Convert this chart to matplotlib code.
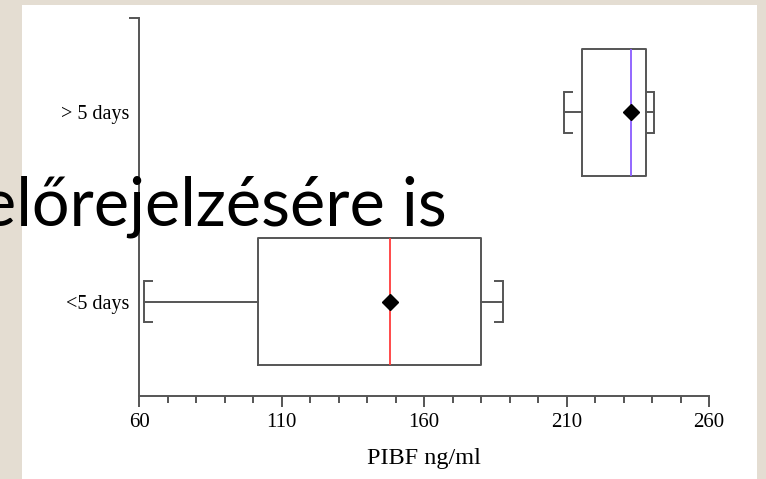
import matplotlib
matplotlib.use("Agg")
import matplotlib.pyplot as plt
from matplotlib.patches import Rectangle
from matplotlib.ticker import MultipleLocator


# ---------------------------------
# Data (PIBF ng/ml)
# ---------------------------------

labels = ["<5 days", "> 5 days"]
whislo = [61.9, 209.2]
q1 = [101.8, 215.3]
med = [147.9, 232.6]
q3 = [180.0, 237.8]
whishi = [187.6, 240.8]
means = [147.9, 232.6]
median_colors = ["#ff3b3b", "#8a5cff"]

x_ticks = [60, 110, 160, 210, 260]

overlay_text = "előrejelzésére is"

# ---------------------------------
# Figure
# ---------------------------------

fig = plt.figure(figsize=(7.66, 4.79), dpi=100)
fig.patch.set_facecolor("#e4ddd2")

# white slide panel
fig.patches.append(
    Rectangle((22 / 766, 0), (757 - 22) / 766, (479 - 5) / 479,
              transform=fig.transFigure, facecolor="white",
              edgecolor="none", zorder=-5)
)

ax = fig.add_axes([139 / 766, 83 / 479, 570 / 766, 378 / 479])
ax.set_facecolor("none")
ax.set_zorder(1)

stats = []
for i in range(len(labels)):
    stats.append({
        "label": labels[i],
        "whislo": whislo[i],
        "q1": q1[i],
        "med": med[i],
        "q3": q3[i],
        "whishi": whishi[i],
        "mean": means[i],
    })

gray = "#555555"
lw = 1.4

bp = ax.bxp(
    stats,
    positions=[1, 2],
    orientation="horizontal",
    widths=0.667,
    showmeans=True,
    showfliers=False,
    boxprops=dict(color=gray, linewidth=lw),
    whiskerprops=dict(color=gray, linewidth=lw),
    capprops=dict(color=gray, linewidth=lw),
    capwidths=0.22,
    meanprops=dict(marker="D", markerfacecolor="black",
                   markeredgecolor="black", markersize=8.5),
)

for line, c in zip(bp["medians"], median_colors):
    line.set_color(c)
    line.set_linewidth(1.3)

# bracket ends on the caps, pointing towards the box
for i, cap in enumerate(bp["caps"]):
    x = cap.get_xdata()[0]
    y0, y1 = cap.get_ydata()
    box_i = i // 2
    if i % 2 == 0:
        end = min(x + 3, q1[box_i])
    else:
        end = max(x - 3, q3[box_i])
    for y in (y0, y1):
        ax.plot([x, end], [y, y], color=gray, linewidth=lw,
                solid_capstyle="butt")

# ---------------------------------
# Axes
# ---------------------------------

ax.set_xlim(60, 260)
ax.set_ylim(0.5, 2.5)

ax.spines["top"].set_visible(False)
ax.spines["right"].set_visible(False)
ax.spines["left"].set_color(gray)
ax.spines["bottom"].set_color(gray)
ax.spines["left"].set_linewidth(lw)
ax.spines["bottom"].set_linewidth(lw)

ax.set_xticks(x_ticks)
ax.xaxis.set_minor_locator(MultipleLocator(10))
ax.tick_params(axis="x", which="major", length=8, width=lw, color=gray,
               labelsize=15, pad=4)
ax.tick_params(axis="x", which="minor", length=5, width=lw, color=gray)

ax.set_yticks([1, 2])
ax.set_yticklabels(labels)
ax.set_yticks([2.5], minor=True)
ax.tick_params(axis="y", which="major", length=0, labelsize=14.5, pad=7)
ax.tick_params(axis="y", which="minor", length=7, width=lw, color=gray)

for t in ax.get_xticklabels() + ax.get_yticklabels():
    t.set_fontfamily("Liberation Serif")

ax.set_xlabel("PIBF ng/ml", fontfamily="Liberation Serif", fontsize=17.5,
              labelpad=12)

# slide text over the chart
fig.text(447 / 766, 1 - 226 / 479, overlay_text,
         ha="right", va="baseline", fontsize=48, color="black",
         family=["Lato", "DejaVu Sans"], zorder=10)

fig.savefig("out.png", dpi=100, facecolor=fig.get_facecolor())
